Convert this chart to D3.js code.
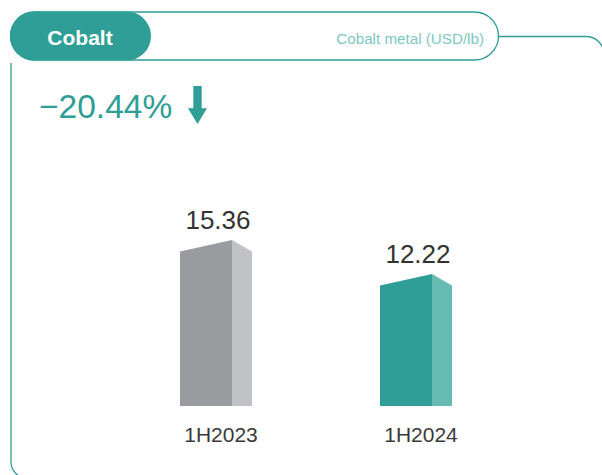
<!DOCTYPE html>
<html lang="en">
<head>
  <meta charset="utf-8">
  <title>Cobalt</title>
  <script src="https://d3js.org/d3.v7.min.js"></script>
  <style>
    body { margin: 0; background: #fff; }
    svg { display: block; font-family: "Liberation Sans", Arial, sans-serif; }
  </style>
</head>
<body>
<svg width="602" height="475"></svg>
<script>

// chart data
var categories = ["1H2023", "1H2024"];
var values = [15.36, 12.22];
var title = "Cobalt";
var subtitle = "Cobalt metal (USD/lb)";

var frontColors = ["#9a9b9f", "#2e9e96"],
    sideColors = ["#c0c2c6", "#66bbb2"],
    teal = "#2e9e96";

var svg = d3.select("svg");

// frame lines
svg.append("path")
    .attr("d", "M11,63 V462 A16,16 0 0 0 27,478 H602")
    .attr("fill", "none").attr("stroke", teal).attr("stroke-width", 1.3);
svg.append("path")
    .attr("d", "M498,36.5 H586 A18,18 0 0 1 604,54.5 V475")
    .attr("fill", "none").attr("stroke", teal).attr("stroke-width", 1.3);

// header pill
svg.append("rect")
    .attr("x", 10.5).attr("y", 12).attr("width", 488).attr("height", 48)
    .attr("rx", 24).attr("fill", "#fff").attr("stroke", teal).attr("stroke-width", 1.3);
svg.append("rect")
    .attr("x", 10).attr("y", 11.5).attr("width", 141).attr("height", 49)
    .attr("rx", 24.5).attr("fill", teal);
svg.append("text")
    .attr("x", 80).attr("y", 44.5).attr("text-anchor", "middle")
    .attr("fill", "#fff").attr("font-size", 21).attr("font-weight", "bold")
    .text(title);
svg.append("text")
    .attr("x", 484).attr("y", 43.5).attr("text-anchor", "end")
    .attr("fill", "#7fc9bf").attr("font-size", 15.2)
    .text(subtitle);

// change headline
var change = (values[1] - values[0]) / values[0];
svg.append("text")
    .attr("x", 39).attr("y", 117.5)
    .attr("fill", teal).attr("font-size", 33.5)
    .text("\u2212" + d3.format(".2f")(Math.abs(change) * 100) + "%");
svg.append("path")
    .attr("d", "M193.3,86 H201.7 V108.3 H207 L197.5,124 L188,108.3 H193.3 Z")
    .attr("fill", teal);

// scales
var x = d3.scalePoint().domain(categories).range([216, 416]);
var y = d3.scaleLinear().domain([0, 20]).range([406, 190]);

var frontW = 52, sideW = 20, slant = 11.5;
var left = frontW + sideW;

var bars = svg.append("g").selectAll("g")
    .data(values)
    .join("g");

bars.append("path")
    .attr("fill", function(d, i) { return frontColors[i]; })
    .attr("d", function(d, i) {
      var x0 = x(categories[i]) - left / 2, x1 = x0 + frontW;
      return "M" + x0 + "," + y(0) + " V" + (y(d) + slant) + " L" + x1 + "," + y(d) +
             " V" + y(0) + " Z";
    });

bars.append("path")
    .attr("fill", function(d, i) { return sideColors[i]; })
    .attr("d", function(d, i) {
      var x1 = x(categories[i]) - left / 2 + frontW, x2 = x1 + sideW;
      return "M" + x1 + "," + y(0) + " V" + y(d) + " L" + x2 + "," + (y(d) + slant) +
             " V" + y(0) + " Z";
    });

bars.append("text")
    .attr("x", function(d, i) { return x(categories[i]) + 2; })
    .attr("y", function(d) { return y(d) - 11; })
    .attr("text-anchor", "middle")
    .attr("fill", "#333").attr("font-size", 26)
    .text(function(d) { return d3.format(".2f")(d); });

// category labels
svg.append("g").selectAll("text")
    .data(categories)
    .join("text")
    .attr("x", function(d) { return x(d) + 5; })
    .attr("y", 442)
    .attr("text-anchor", "middle")
    .attr("fill", "#3a3a3a").attr("font-size", 21)
    .text(function(d) { return d; });

</script>
</body>
</html>
